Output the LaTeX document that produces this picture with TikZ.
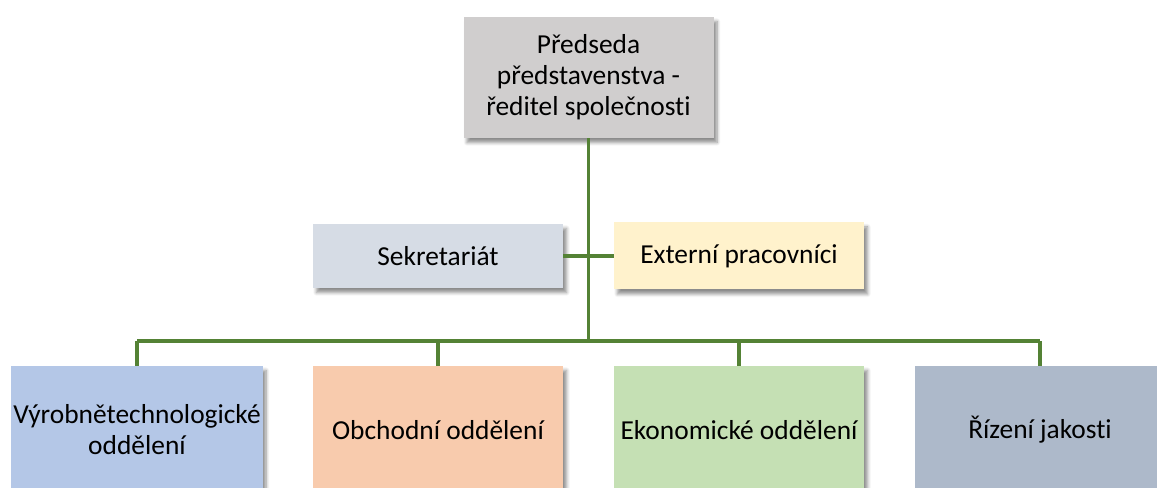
\documentclass[tikz,border=0pt]{standalone}
\usepackage{fontspec}
\setmainfont{Carlito}[Ligatures=NoCommon]
\usepackage{xcolor}
\usetikzlibrary{shadows.blur}

\definecolor{headgray}{HTML}{D0CECE}
\definecolor{sekblue}{HTML}{D6DCE5}
\definecolor{extyellow}{HTML}{FFF2CC}
\definecolor{vyrblue}{HTML}{B4C7E7}
\definecolor{obcorange}{HTML}{F8CBAD}
\definecolor{ekogreen}{HTML}{C5E0B4}
\definecolor{rizgray}{HTML}{ADB9CA}
\definecolor{linegreen}{HTML}{548235}

\tikzset{
    orgbox/.style={minimum width=5cm, inner sep=1pt, align=center,
        font=\fontsize{15.6}{17.6}\selectfont,
        blur shadow={shadow xshift=0.07cm, shadow yshift=-0.09cm,
            shadow blur steps=6, shadow opacity=45}},
    orgline/.style={draw=linegreen, line width=2pt}
}

\begin{document}
\begin{tikzpicture}
    \useasboundingbox (0,0) rectangle (23.14,9.76);
    \begin{scope}
    \clip (0,0) rectangle (23.14,9.76);

    % Head of the company
    \node[orgbox, fill=headgray, minimum height=2.42cm] (head) at (11.77,8.21)
        {Předseda\\představenstva -\\ředitel společnosti};

    % Staff units beside the trunk
    \node[orgbox, fill=sekblue, minimum height=1.28cm] (sek) at (8.76,4.64) {Sekretariát};
    \node[orgbox, fill=extyellow, minimum height=1.34cm] (ext) at (14.78,4.64) {Externí pracovníci};

    % Departments
    \foreach \x/\name/\col/\txt in {2.74/vyr/vyrblue/{Výrobnětechnologické\\oddělení},
        8.76/obc/obcorange/{Obchodní oddělení},
        14.78/eko/ekogreen/{Ekonomické oddělení},
        20.8/riz/rizgray/{Řízení jakosti}} {
        \node[orgbox, fill=\col, minimum height=2.56cm] (\name) at (\x,1.16) {\txt};
    }

    % Connectors
    \coordinate (bus) at (11.77,2.94);
    \draw[orgline] (head.south) -- (bus);
    \draw[orgline] (sek.east) -- (ext.west);
    \draw[orgline] (vyr.north |- bus) -- (riz.north |- bus);
    \foreach \name in {vyr, obc, eko, riz} {
        \draw[orgline] (\name.north) -- (\name.north |- bus);
    }
    \end{scope}
\end{tikzpicture}
\end{document}
